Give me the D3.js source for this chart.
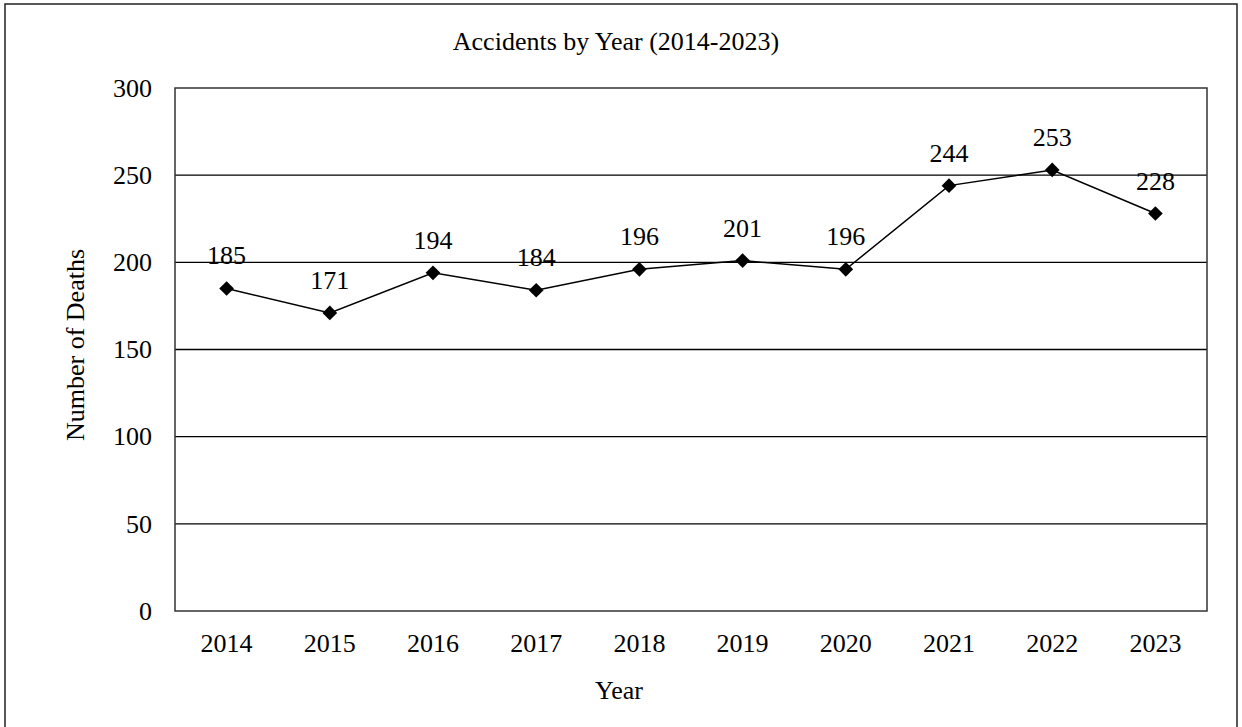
<!DOCTYPE html>
<html>
<head>
<meta charset="utf-8">
<script src="https://cdn.jsdelivr.net/npm/d3@7/dist/d3.min.js"></script>
<style>
  html, body { margin: 0; padding: 0; background: #fff; }
  svg { display: block; }
  text { font-family: "Liberation Serif", "Times New Roman", serif; fill: #000; }
</style>
</head>
<body>
<svg id="chart" width="1242" height="727"></svg>
<script>
// Accident deaths per year
const years = ["2014", "2015", "2016", "2017", "2018", "2019", "2020", "2021", "2022", "2023"];
const deaths = [185, 171, 194, 184, 196, 201, 196, 244, 253, 228];
const yTicks = [0, 50, 100, 150, 200, 250, 300];

const titleText = "Accidents by Year (2014-2023)";
const xTitle = "Year";
const yTitle = "Number of Deaths";

const plot = { left: 175, top: 88, right: 1207, bottom: 611 };
const fontSize = 26;
const fontFamily = '"Liberation Serif", "Times New Roman", serif';

const svg = d3.select("#chart");

// outer frame
svg.append("rect")
  .attr("x", 5).attr("y", 4)
  .attr("width", 1232).attr("height", 730)
  .attr("fill", "none").attr("stroke", "#222").attr("stroke-width", 1.5);

const x = d3.scaleBand().domain(years).range([plot.left, plot.right]);
const y = d3.scaleLinear().domain([0, 300]).range([plot.bottom, plot.top]);

// horizontal gridlines
svg.append("g").selectAll("line")
  .data(yTicks.filter(t => t > 0 && t < 300))
  .join("line")
  .attr("x1", plot.left).attr("x2", plot.right)
  .attr("y1", d => y(d)).attr("y2", d => y(d))
  .attr("stroke", "#000").attr("stroke-width", 1.3);

// plot area frame
svg.append("rect")
  .attr("x", plot.left).attr("y", plot.top)
  .attr("width", plot.right - plot.left).attr("height", plot.bottom - plot.top)
  .attr("fill", "none").attr("stroke", "#333").attr("stroke-width", 1.5);

// y axis labels
const yAxis = d3.axisLeft(y).tickValues(yTicks).tickSize(0).tickPadding(23);
const gy = svg.append("g").attr("transform", `translate(${plot.left},0)`).call(yAxis);
gy.select(".domain").remove();
gy.selectAll("text").style("font-size", fontSize + "px")
  .style("font-family", fontFamily).attr("fill", "#000");

// x axis labels
const xAxis = d3.axisBottom(x).tickSize(0).tickPadding(23);
const gx = svg.append("g").attr("transform", `translate(0,${plot.bottom})`).call(xAxis);
gx.select(".domain").remove();
gx.selectAll("text").style("font-size", fontSize + "px")
  .style("font-family", fontFamily).attr("fill", "#000");

const cx = d => x(d) + x.bandwidth() / 2;

// series line
const line = d3.line()
  .x((d, i) => cx(years[i]))
  .y(d => y(d));
svg.append("path")
  .datum(deaths)
  .attr("d", line)
  .attr("fill", "none").attr("stroke", "#000").attr("stroke-width", 1.5);

// diamond markers
svg.append("g").selectAll("path")
  .data(deaths)
  .join("path")
  .attr("d", d3.symbol().type(d3.symbolSquare).size(108))
  .attr("transform", (d, i) => `translate(${cx(years[i])},${y(d)}) rotate(45)`)
  .attr("fill", "#000");

// value labels
svg.append("g").selectAll("text")
  .data(deaths)
  .join("text")
  .attr("x", (d, i) => cx(years[i]))
  .attr("y", d => y(d) - 24)
  .attr("text-anchor", "middle")
  .style("font-size", fontSize + "px")
  .text(d => d);

// titles
svg.append("text")
  .attr("x", 616).attr("y", 50)
  .attr("text-anchor", "middle")
  .style("font-size", fontSize + "px")
  .text(titleText);

svg.append("text")
  .attr("x", 619).attr("y", 699)
  .attr("text-anchor", "middle")
  .style("font-size", fontSize + "px")
  .text(xTitle);

svg.append("text")
  .attr("transform", "translate(84,345) rotate(-90)")
  .attr("text-anchor", "middle")
  .style("font-size", fontSize + "px")
  .text(yTitle);
</script>
</body>
</html>
